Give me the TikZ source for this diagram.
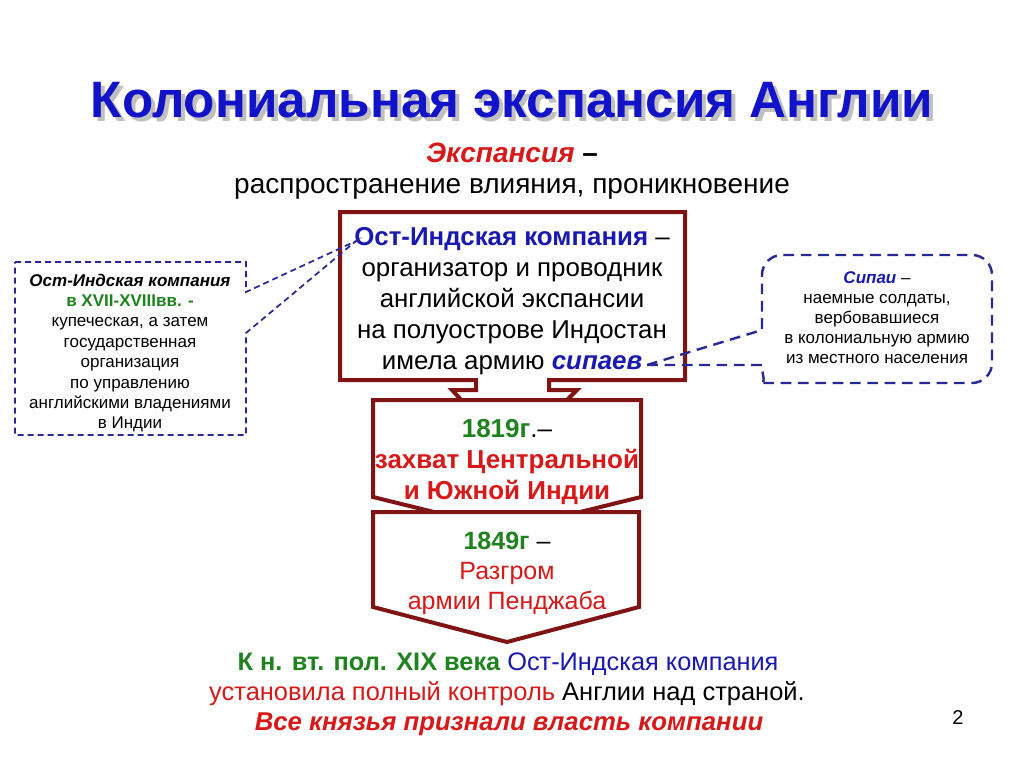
\documentclass[tikz,border=0pt]{standalone}
\usepackage{fontspec}
\setmainfont{Liberation Sans}
\definecolor{boxred}{RGB}{128,20,20}
\definecolor{titleblue}{RGB}{18,18,200}
\definecolor{tblue}{RGB}{25,25,175}
\definecolor{tgreen}{RGB}{30,130,30}
\definecolor{tred}{RGB}{215,25,25}
\definecolor{dblue}{RGB}{40,40,150}
\tikzset{
  arrowbox/.style={draw=boxred, line width=3pt, fill=white, line join=miter},
  notea/.style={draw=dblue, line width=1.3pt, dash pattern=on 4.5pt off 3pt},
  noteb/.style={draw=dblue, line width=1.8pt, dash pattern=on 8pt off 5pt},
  txt/.style={inner sep=0pt, align=center, text=black},
}
\begin{document}
\begin{tikzpicture}[x=0.75pt,y=-0.75pt]
\useasboundingbox[fill=white] (0,0) rectangle (1024,767);
% title
\node[txt, text=gray!70, opacity=0.7, font=\fontsize{38.4pt}{44pt}\selectfont\bfseries] (titleshadow) at (516,104) {Колониальная экспансия Англии};
\node[txt, text=titleblue, font=\fontsize{38.4pt}{44pt}\selectfont\bfseries] (title) at (512,100) {Колониальная экспансия Англии};
\node[txt, font=\fontsize{21pt}{25pt}\selectfont] (exp) at (512,153) {\textcolor{tred}{\bfseries\itshape Экспансия} \textbf{–}};
\node[txt, font=\fontsize{21pt}{25pt}\selectfont] (def) at (512,189) {распространение влияния, проникновение};
% arrow boxes
\draw[arrowbox] (340,212) -- (685,212) -- (685,380) -- (549,380) -- (549,390) -- (577,390) -- (512,455) -- (452,390) -- (476,390) -- (476,380) -- (340,380) -- cycle;
\draw[arrowbox] (373,400) -- (641,400) -- (641,497) -- (507,530) -- (373,497) -- cycle;
\draw[arrowbox] (373,512) -- (639,512) -- (639,607) -- (507,642) -- (373,607) -- cycle;
\node[txt, font=\fontsize{19.4pt}{23.2pt}\selectfont] (company) at (512,301) {\textcolor{tblue}{\bfseries Ост-Индская компания} –\\организатор и проводник\\английской экспансии\\на полуострове Индостан\\имела армию \textcolor{tblue}{\bfseries\itshape сипаев}};
\node[txt, font=\fontsize{19.5pt}{23.25pt}\selectfont] (y1819) at (507,462) {\textcolor{tgreen}{\bfseries 1819г}.–\\\textcolor{tred}{\bfseries захват Центральной}\\\textcolor{tred}{\bfseries и Южной Индии}};
\node[txt, font=\fontsize{18.75pt}{22.5pt}\selectfont] (y1849) at (507,573) {\textcolor{tgreen}{\bfseries 1849г} –\\\textcolor{tred}{Разгром}\\\textcolor{tred}{армии Пенджаба}};
% callouts
\draw[notea] (15,262) -- (246,262) -- (246,292) -- (356,241) -- (246,333) -- (246,435) -- (15,435) -- cycle;
\node[txt, font=\fontsize{12.75pt}{15.3pt}\selectfont] (leftnote) at (130,353) {{\bfseries\itshape Ост-Индская компания}\\\textcolor{tgreen}{\bfseries в XVII-XVIIIвв. -}\\купеческая, а затем\\государственная\\организация\\по управлению\\английскими владениями\\в Индии};
\draw[noteb] (647,365) -- (762,330) [rounded corners=15pt] -- (762,255) -- (992,255) -- (992,383) -- (780,383) [sharp corners] .. controls (767,383) and (762,377) .. (762,365) -- cycle;
\node[txt, font=\fontsize{12.75pt}{15pt}\selectfont] (rightnote) at (877,318) {\textcolor{tblue}{\bfseries\itshape Сипаи} –\\наемные солдаты,\\вербовавшиеся\\в колониальную армию\\из местного населения};
% bottom
\node[txt, font=\fontsize{19pt}{22.5pt}\selectfont] (final1) at (508,664) {\textcolor{tgreen}{\bfseries К н. вт. пол. XIX века} \textcolor{tblue}{Ост-Индская компания}};
\node[txt, font=\fontsize{19.1pt}{22.5pt}\selectfont] (final2) at (507,694) {\textcolor{tred}{установила полный контроль} Англии над страной.};
\node[txt, font=\fontsize{19.3pt}{22.5pt}\selectfont] (final3) at (509,724) {\textcolor{tred}{\bfseries\itshape Все князья признали власть компании}};
\node[txt, font=\fontsize{15pt}{18pt}\selectfont] (pagenum) at (958,718) {2};
\end{tikzpicture}
\end{document}
